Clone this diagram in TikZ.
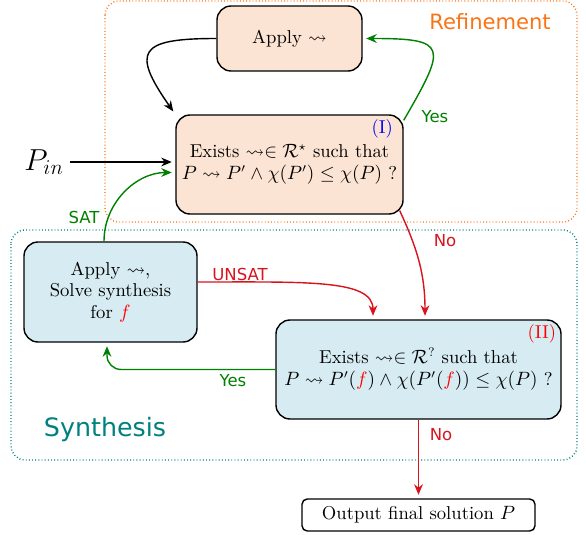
\documentclass[tikz,border=0pt]{standalone}
\definecolor{refpeach}{RGB}{252, 228, 212}
\definecolor{synblue}{RGB}{215, 236, 242}
\definecolor{reforange}{RGB}{250, 115, 20}
\definecolor{synteal}{RGB}{0, 128, 128}
\definecolor{yesgreen}{RGB}{0, 128, 0}
\definecolor{nored}{RGB}{215, 20, 30}
\usepackage{fontspec}
\newfontfamily\tagfont{DejaVu Sans}
\usepackage{amsmath, amssymb}
\usetikzlibrary{arrows.meta, positioning, calc}

\begin{document}
\begin{tikzpicture}[
    boxfont/.style={font=\fontsize{10.6pt}{12.4pt}\selectfont},
    refbox/.style={draw=black, thick, fill=refpeach, rounded corners=8pt, align=center, boxfont},
    synbox/.style={draw=black, thick, fill=synblue, rounded corners=8pt, align=center, boxfont},
    region/.style={thick, dash pattern=on 0.5pt off 1.3pt, rounded corners=8pt},
    flow/.style={-{Stealth[length=6pt, width=5pt]}, thick, shorten >=2pt},
    branch/.style={font=\tagfont\fontsize{9.4pt}{11pt}\selectfont}
  ]
  \useasboundingbox (0, 0) rectangle (11.72, -10.68);

  % Regions
  \draw[region, draw=reforange] (2.1, -0.02) rectangle (11.54, -4.44);
  \draw[region, draw=synteal] (0.22, -4.6) rectangle (11.54, -9.2);
  \node[font=\tagfont\large, text=reforange] (reftitle) at (9.8, -0.44) {Refinement};
  \node[font=\tagfont\Large, text=synteal] (syntitle) at (2.1, -8.6) {Synthesis};

  % Refinement loop
  \node[refbox, minimum width=2.9cm, minimum height=1.3cm] (apply) at (5.79, -0.77) {Apply $\leadsto$};
  \node[refbox, minimum width=4.46cm, minimum height=1.98cm] (exists1) at (5.79, -3.29) {
    Exists $\leadsto\in\mathcal{R}^\star$ such that\\
    $P\leadsto P'\wedge\chi(P')\leq\chi(P)$ ?
  };
  \node[anchor=north east, text=blue, inner sep=2pt, boxfont] (tagI) at ([xshift=-4pt, yshift=-1pt]exists1.north east) {(I)};
  \node[font=\LARGE] (pin) at (0.88, -3.24) {$P_{in}$};

  % Synthesis loop
  \node[synbox, minimum width=3.46cm, minimum height=2cm] (synth) at (2.21, -5.84) {
    Apply $\leadsto$,\\
    Solve synthesis\\
    for \textcolor{red}{$f$}
  };
  \node[synbox, minimum width=5.7cm, minimum height=1.98cm] (exists2) at (8.37, -7.39) {
    Exists $\leadsto\in\mathcal{R}^?$ such that\\
    $P\leadsto P'(\textcolor{red}{f})\wedge\chi(P'(\textcolor{red}{f}))\leq\chi(P)$ ?
  };
  \node[anchor=north east, text=red, inner sep=2pt, boxfont] (tagII) at ([xshift=-1pt, yshift=-1pt]exists2.north east) {(II)};

  \node[draw=black, thick, rounded corners=3pt, minimum width=4.66cm, minimum height=0.64cm, boxfont] (output) at (8.37, -10.30) {Output final solution $P$};

  % Connectors
  \draw[flow] (pin.east) -- (pin.east -| exists1.west);
  \draw[flow] (apply.west) to[out=180, in=125, looseness=2.3] (exists1.north west);
  \draw[flow, yesgreen] ([yshift=-0.12cm]exists1.north east) to[out=60, in=0, looseness=2.4] (apply.east);
  \draw[flow, yesgreen] ([xshift=-0.13cm]synth.north) to[out=90, in=180] ([yshift=-0.16cm]exists1.west);
  \draw[flow, nored] ([yshift=0.2cm]synth.east) .. controls +(2.2, 0) and +(0, 0.8) .. ([xshift=-0.91cm]exists2.north);
  \draw[flow, nored] ([xshift=-0.08cm, yshift=0.08cm]exists1.south east) to[out=-65, in=90] ([xshift=0.13cm]exists2.north);
  \draw[flow, yesgreen, rounded corners=8pt] (exists2.west) -| ([xshift=-0.07cm]synth.south);
  \draw[flow, nored] (exists2.south) -- (output.north);

  % Branch labels
  \node[branch, text=yesgreen] (yestop) at (8.7, -2.34) {Yes};
  \node[branch, text=yesgreen] (sat) at (1.68, -4.34) {SAT};
  \node[branch, text=nored] (unsat) at (4.8, -5.48) {UNSAT};
  \node[branch, text=nored] (notop) at (8.9, -4.82) {No};
  \node[branch, text=yesgreen] (yesbot) at (4.66, -7.62) {Yes};
  \node[branch, text=nored] (nobot) at (8.82, -8.7) {No};
\end{tikzpicture}
\end{document}
